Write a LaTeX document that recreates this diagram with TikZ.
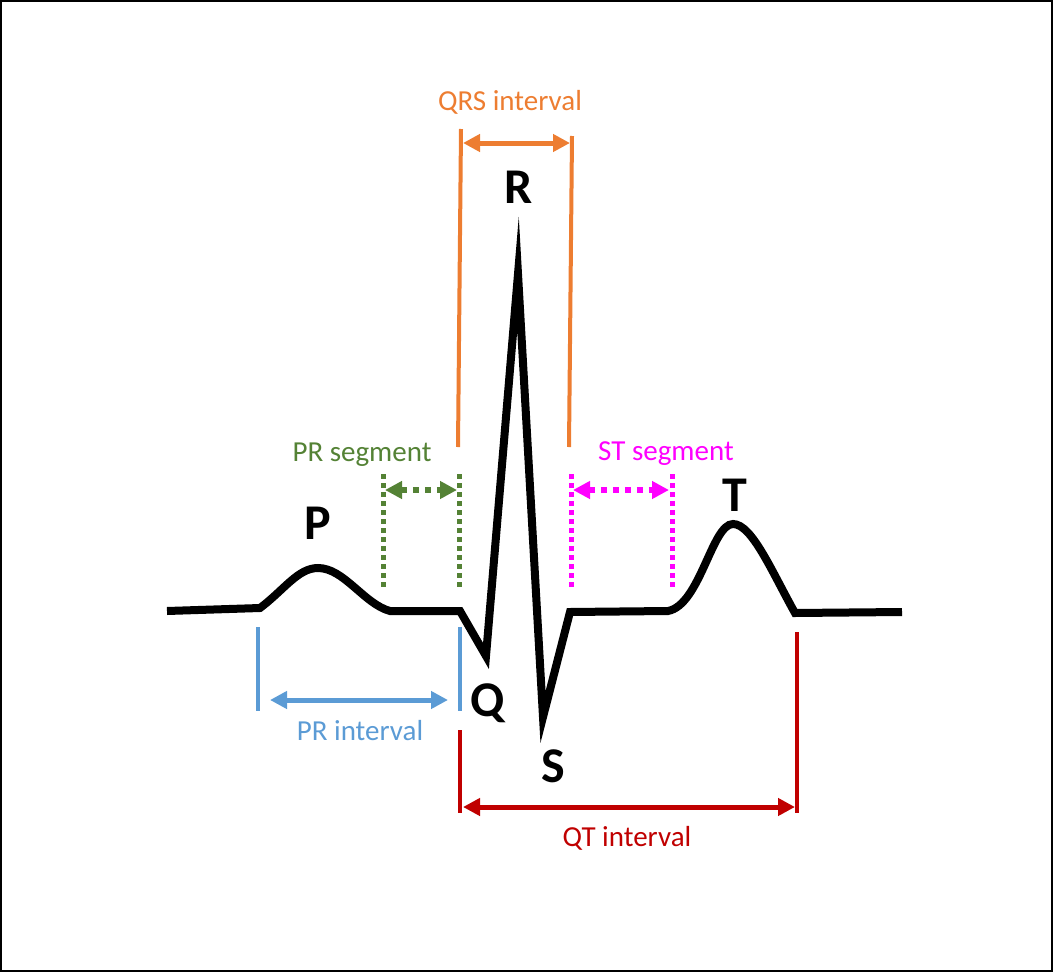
\documentclass[tikz,border=0pt]{standalone}
\usepackage{fontspec}
\setmainfont{Carlito}
\usetikzlibrary{arrows.meta}
\definecolor{qrsor}{HTML}{ED7D31}
\definecolor{prgreen}{HTML}{548235}
\definecolor{stmag}{HTML}{FF00FF}
\definecolor{prblue}{HTML}{5B9BD5}
\definecolor{qtred}{HTML}{C00000}
\tikzset{
  wave/.style={line width=8pt, line join=miter, miter limit=20},
  lbl/.style={font=\fontsize{29}{33}\selectfont, inner sep=0pt},
  wlbl/.style={font=\fontsize{50}{54}\selectfont\bfseries, inner sep=0pt},
  solidmark/.style={line width=4pt},
  dotmark/.style={line width=5pt, dash pattern=on 4.5pt off 4.5pt},
  dimarrow/.style={line width=5pt, {Triangle[length=17pt,width=17pt]}-{Triangle[length=17pt,width=17pt]}},
  dotarrow/.style={line width=6pt, dash pattern=on 6pt off 6pt, {Triangle[length=17pt,width=17pt]}-{Triangle[length=17pt,width=17pt]}}
}
\begin{document}
\begin{tikzpicture}[x=1pt,y=-1pt]
\useasboundingbox (0,0) rectangle (1053,972);
\draw[line width=2pt] (1,1) rectangle (1052,971);

% waveform
\draw[wave] (167,611) -- (260,608)
  .. controls (284,590) and (298,568) .. (318,568)
  .. controls (344,568) and (364,604) .. (390,611)
  -- (460,611) -- (486,656) -- (518,274) -- (543,717) -- (570,612)
  -- (668,611) .. controls (700,605) and (712,524) .. (733,524)
  .. controls (752,524) and (772,572) .. (795,613) -- (902,612);

% wave labels
\node[wlbl] (P) at (318,523) {P};
\node[wlbl] (R) at (519,187) {R};
\node[wlbl] (Q) at (488,703) {Q};
\node[wlbl] (S) at (553,766) {S};
\node[wlbl] (T) at (735,495) {T};

% QRS interval
\coordinate (qrsLt) at (461,129);
\coordinate (qrsLb) at (458,447);
\coordinate (qrsRt) at (572,136);
\coordinate (qrsRb) at (569,447);
\coordinate (qrsA) at (463,143);
\coordinate (qrsB) at (570,143);
\draw[solidmark, qrsor] (qrsLt) -- (qrsLb);
\draw[solidmark, qrsor] (qrsRt) -- (qrsRb);
\draw[dimarrow, qrsor] (qrsA) -- (qrsB);
\node[lbl, text=qrsor] (qrsT) at (510,102) {QRS interval};

% PR segment
\coordinate (prsLt) at (383,474);
\coordinate (prsLb) at (383,590);
\coordinate (prsRt) at (459,474);
\coordinate (prsRb) at (459,590);
\coordinate (prsA) at (385,490);
\coordinate (prsB) at (457,490);
\draw[dotmark, prgreen] (prsLt) -- (prsLb);
\draw[dotmark, prgreen] (prsRt) -- (prsRb);
\draw[dotarrow, prgreen] (prsA) -- (prsB);
\node[lbl, text=prgreen] (prsT) at (362,455) {PR segment};

% ST segment
\coordinate (stsLt) at (571,474);
\coordinate (stsLb) at (571,590);
\coordinate (stsRt) at (672,474);
\coordinate (stsRb) at (672,590);
\coordinate (stsA) at (573,490);
\coordinate (stsB) at (669,490);
\draw[dotmark, stmag] (stsLt) -- (stsLb);
\draw[dotmark, stmag] (stsRt) -- (stsRb);
\draw[dotarrow, stmag] (stsA) -- (stsB);
\node[lbl, text=stmag] (stsT) at (666,454) {ST segment};

% PR interval
\coordinate (priLt) at (258,627);
\coordinate (priLb) at (258,711);
\coordinate (priRt) at (460,627);
\coordinate (priRb) at (460,711);
\coordinate (priA) at (270,700);
\coordinate (priB) at (448,700);
\draw[solidmark, prblue] (priLt) -- (priLb);
\draw[solidmark, prblue] (priRt) -- (priRb);
\draw[dimarrow, prblue] (priA) -- (priB);
\node[lbl, text=prblue] (priT) at (360,731) {PR interval};

% QT interval
\coordinate (qtLt) at (460,730);
\coordinate (qtLb) at (460,813);
\coordinate (qtRt) at (797,632);
\coordinate (qtRb) at (797,813);
\coordinate (qtA) at (463,807);
\coordinate (qtB) at (795,807);
\draw[solidmark, qtred] (qtLt) -- (qtLb);
\draw[solidmark, qtred] (qtRt) -- (qtRb);
\draw[dimarrow, qtred] (qtA) -- (qtB);
\node[lbl, text=qtred] (qtT) at (627,838) {QT interval};
\end{tikzpicture}
\end{document}
